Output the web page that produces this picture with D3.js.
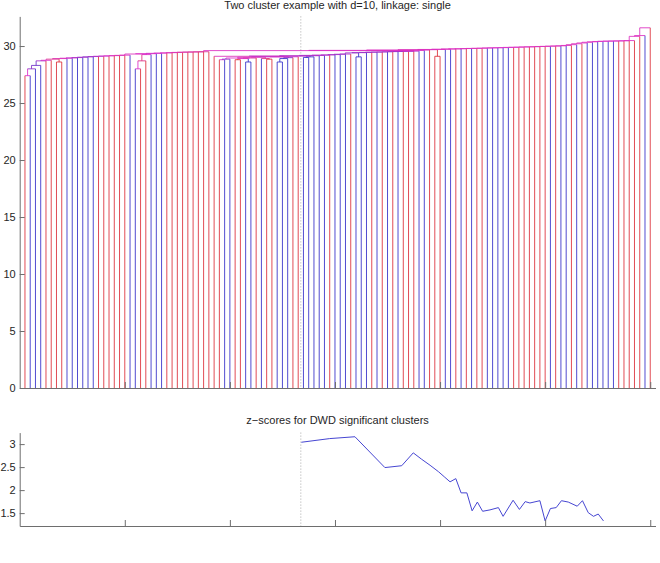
<!DOCTYPE html>
<html>
<head>
<meta charset="utf-8">
<script src="https://cdn.jsdelivr.net/npm/d3@7"></script>
<style>
  body { margin: 0; background: #fff; }
  text { font-family: "Liberation Sans", Arial, Helvetica, sans-serif; fill: #262626; }
  .axis path, .axis line { stroke: #6e6e6e; }
</style>
</head>
<body>
<div id="chart"></div>
<script>
// class of each leaf, in dendrogram order (r / b)
const leafClass = [
  "r","b","b","b","r","r","r","r","b","b",
  "b","b","b","b","r","r","r","r","r","r",
  "b","b","r","r","b","b","b","r","r","r",
  "r","r","r","r","r","r","r","r","b","b",
  "r","r","b","b","r","b","r","r","b","b",
  "b","r","r","b","b","b","b","b","r","b",
  "b","b","r","b","b","b","r","b","r","b",
  "r","b","r","r","r","b","b","r","r","r",
  "b","b","r","b","r","b","r","r","b","b",
  "b","b","b","r","r","r","r","r","r","r",
  "b","r","b","b","r","b","r","b","b","b",
  "b","b","b","r","r","r","r","r","b","r"
];

// single linkage height at which leaf i and leaf i+1 get joined
const gapHeight = [
  27.4, 28.0, 28.3, 28.7, 28.75, 28.85, 28.6, 28.9, 28.93, 28.96,
  28.99, 29.02, 29.05, 29.08, 29.1, 29.12, 29.14, 29.16, 29.18, 29.2,
  29.3, 28.0, 28.7, 29.25, 29.33, 29.36, 29.38, 29.4, 29.42, 29.44,
  29.46, 29.47, 29.48, 29.49, 29.5, 29.6, 29.1, 28.8, 28.85, 28.95,
  28.8, 28.9, 28.6, 28.95, 29.02, 28.9, 28.85, 29.05, 28.6, 28.9,
  28.98, 29.06, 29.12, 29.0, 29.05, 29.15, 29.18, 29.2, 29.22, 29.25,
  29.28, 29.3, 29.4, 29.05, 29.42, 29.44, 29.46, 29.47, 29.48, 29.5,
  29.51, 29.52, 29.53, 29.54, 29.55, 29.62, 29.65, 29.68, 29.1, 29.7,
  29.72, 29.74, 29.75, 29.76, 29.78, 29.79, 29.8, 29.81, 29.83, 29.84,
  29.85, 29.86, 29.88, 29.89, 29.9, 29.92, 29.93, 29.94, 29.96, 29.97,
  29.99, 30.0, 30.02, 30.05, 30.12, 30.2, 30.27, 30.33, 30.37, 30.4,
  30.42, 30.43, 30.44, 30.45, 30.46, 30.48, 30.85, 30.92, 31.6
];

const cutPosition = 53.5;

// z-scores of the DWD significant clusters
const zX = [53.6, 59.0, 63.8, 69.5, 72.7, 74.9, 76.5, 78.1, 79.7, 80.9,
            81.9, 83.0, 84.0, 85.1, 86.1, 87.1, 88.1, 89.5, 91.1, 92.0,
            93.9, 95.1, 96.2, 97.1, 99.0, 100.0, 101.0, 102.1, 103.1, 104.4,
            106.1, 107.1, 108.2, 109.2, 110.1, 111.1];
const zY = [3.04, 3.12, 3.16, 2.49, 2.53, 2.81, 2.67, 2.54, 2.40, 2.28,
            2.18, 2.25, 1.94, 1.94, 1.55, 1.74, 1.54, 1.57, 1.62, 1.43,
            1.78, 1.58, 1.75, 1.72, 1.77, 1.33, 1.60, 1.62, 1.77, 1.74,
            1.65, 1.77, 1.51, 1.43, 1.48, 1.33];

const topTicks = [0, 5, 10, 15, 20, 25, 30];
const bottomTicks = [1.5, 2, 2.5, 3];
const xTicks = [20, 40, 60, 80, 100, 120];

const titleTop = "Two cluster example with d=10, linkage: single";
const titleBottom = "z\u2212scores for DWD significant clusters";

const svg = d3.select("#chart").append("svg")
    .attr("width", 660)
    .attr("height", 563);

// red / blue mix by share of class r
function mixColor(node) {
    let p = node.nRed / node.n
    let m = Math.max(p, 1 - p)
    return d3.rgb(Math.round(50 + 170 * p / m), 45, Math.round(55 + 145 * (1 - p) / m)).toString()
}

class Dendrogram {

    constructor(svg){
        this.svg = svg
        this.initVis()
    }

    initVis(){
        let vis = this

        vis.margin = {top: 16.4, left: 19.7};
        vis.width = 635.8;
        vis.height = 371.6;

        vis.g = vis.svg.append("g")
            .attr("transform", "translate(" + vis.margin.left + "," + vis.margin.top + ")");

        vis.xScale = d3.scaleLinear().domain([0, leafClass.length + 1]).range([0, vis.width]);
        vis.yScale = d3.scaleLinear().domain([0, 32.6]).range([vis.height, 0]);

        vis.wrangleData()
    }

    // build the tree from neighbour merge heights (max gap = top split)
    buildTree(lo, hi){
        let vis = this
        if (lo === hi) {
            return {x: lo + 1, h: 0, n: 1, nRed: leafClass[lo] === "r" ? 1 : 0}
        }
        let k = lo
        for (let i = lo; i < hi; i++) if (gapHeight[i] > gapHeight[k]) k = i
        let left = vis.buildTree(lo, k)
        let right = vis.buildTree(k + 1, hi)
        return {x: (left.x + right.x) / 2, h: gapHeight[k], n: left.n + right.n,
                nRed: left.nRed + right.nRed, children: [left, right]}
    }

    wrangleData(){
        let vis = this

        vis.root = vis.buildTree(0, leafClass.length - 1)
        vis.links = []
        let walk = node => {
            if (!node.children) return
            node.children.forEach(c => {
                vis.links.push({x1: c.x, x2: c.x, y1: c.h, y2: node.h, color: mixColor(c)})
                walk(c)
            })
            vis.links.push({x1: node.children[0].x, x2: node.children[1].x, y1: node.h, y2: node.h, color: mixColor(node)})
        }
        walk(vis.root)

        vis.updateVis()
    }

    updateVis(){
        let vis = this

        vis.g.append("line")
            .attr("x1", vis.xScale(cutPosition)).attr("x2", vis.xScale(cutPosition))
            .attr("y1", 0).attr("y2", vis.height)
            .attr("stroke", "#a8a8a8").attr("stroke-dasharray", "1,2");

        vis.g.selectAll(".link").data(vis.links).enter().append("line")
            .attr("class", "link")
            .attr("x1", d => vis.xScale(d.x1)).attr("x2", d => vis.xScale(d.x2))
            .attr("y1", d => vis.yScale(d.y1)).attr("y2", d => vis.yScale(d.y2))
            .attr("stroke", d => d.color)
            .attr("stroke-opacity", 0.85)
            .attr("stroke-width", 1);

        vis.g.append("g")
            .attr("class", "axis")
            .attr("transform", `translate(0,${vis.height})`)
            .call(d3.axisBottom(vis.xScale).tickValues(xTicks).tickSizeInner(-6).tickSizeOuter(0).tickFormat(""));
        vis.g.append("g")
            .attr("class", "axis")
            .call(d3.axisLeft(vis.yScale).tickValues(topTicks).tickSizeInner(-5).tickSizeOuter(0).tickPadding(4))
            .call(g => g.selectAll("text").attr("font-size", 11).style("font-family", "Liberation Sans, Arial, sans-serif"));

        vis.svg.append("text")
            .attr("x", vis.margin.left + vis.width / 2).attr("y", 9)
            .attr("text-anchor", "middle").attr("font-size", 11)
            .text(titleTop);
    }
}

class ZScores {

    constructor(svg){
        this.svg = svg
        this.initVis()
    }

    initVis(){
        let vis = this

        vis.margin = {top: 432.6, left: 19.7};
        vis.width = 635.8;
        vis.height = 93.4;

        vis.g = vis.svg.append("g")
            .attr("transform", "translate(" + vis.margin.left + "," + vis.margin.top + ")");

        vis.xScale = d3.scaleLinear().domain([0, leafClass.length + 1]).range([0, vis.width]);
        vis.yScale = d3.scaleLinear().domain([1.22, 3.25]).range([vis.height, 0]);

        vis.data = zX.map((x, i) => ({x: x, y: zY[i]}))

        vis.updateVis()
    }

    updateVis(){
        let vis = this

        vis.g.append("line")
            .attr("x1", vis.xScale(cutPosition)).attr("x2", vis.xScale(cutPosition))
            .attr("y1", 0).attr("y2", vis.height)
            .attr("stroke", "#a8a8a8").attr("stroke-dasharray", "1,2");

        vis.g.append("path")
            .datum(vis.data)
            .attr("fill", "none")
            .attr("stroke", "#4646d2")
            .attr("stroke-width", 1)
            .attr("d", d3.line().x(d => vis.xScale(d.x)).y(d => vis.yScale(d.y)));

        vis.g.append("g")
            .attr("class", "axis")
            .attr("transform", `translate(0,${vis.height})`)
            .call(d3.axisBottom(vis.xScale).tickValues(xTicks).tickSizeInner(-6).tickSizeOuter(0).tickFormat(""));
        vis.g.append("g")
            .attr("class", "axis")
            .call(d3.axisLeft(vis.yScale).tickValues(bottomTicks).tickSizeInner(-5).tickSizeOuter(0).tickPadding(4).tickFormat(d3.format("")))
            .call(g => g.selectAll("text").attr("font-size", 11).style("font-family", "Liberation Sans, Arial, sans-serif"));

        vis.svg.append("text")
            .attr("x", vis.margin.left + vis.width / 2).attr("y", 424)
            .attr("text-anchor", "middle").attr("font-size", 11)
            .text(titleBottom);
    }
}

new Dendrogram(svg)
new ZScores(svg)
</script>
</body>
</html>
